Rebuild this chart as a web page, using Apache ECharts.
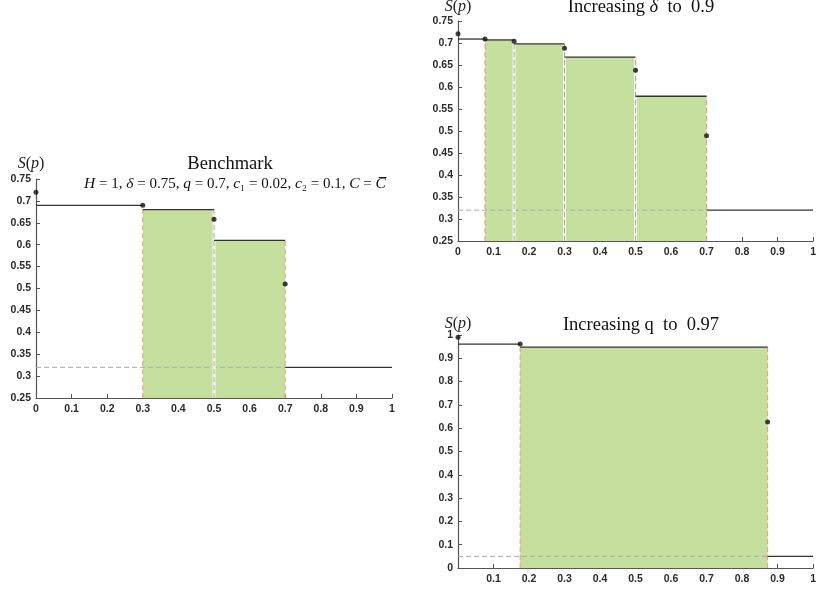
<!DOCTYPE html>
<html><head><meta charset="utf-8">
<script src="https://cdn.jsdelivr.net/npm/echarts@6/dist/echarts.min.js"></script>
<style>html,body{margin:0;padding:0;background:#fff}#c{width:819px;height:592px}</style>
</head><body><div id="c"></div>
<script>
// ---------- data ----------
const xTicks = [0, 0.1, 0.2, 0.3, 0.4, 0.5, 0.6, 0.7, 0.8, 0.9, 1];

// Benchmark
const benchEdges  = [0, 0.3, 0.5, 0.7, 1];
const benchLevels = [0.69, 0.68, 0.61, 0.32];
const benchFilled = [0, 1, 1, 0];
const benchDotsX  = [0, 0.3, 0.5, 0.7];
const benchDotsY  = [0.72, 0.69, 0.658, 0.51];
const benchFloor  = 0.32;
const benchYTicks = [0.25, 0.3, 0.35, 0.4, 0.45, 0.5, 0.55, 0.6, 0.65, 0.7, 0.75];

// Increasing delta to 0.9
const deltaEdges  = [0, 0.076, 0.158, 0.3, 0.5, 0.7, 1];
const deltaLevels = [0.709, 0.707, 0.698, 0.668, 0.579, 0.32];
const deltaFilled = [0, 1, 1, 1, 1, 0];
const deltaDotsX  = [0, 0.076, 0.158, 0.3, 0.5, 0.7];
const deltaDotsY  = [0.721, 0.709, 0.704, 0.688, 0.638, 0.489];
const deltaFloor  = 0.32;
const deltaYTicks = [0.25, 0.3, 0.35, 0.4, 0.45, 0.5, 0.55, 0.6, 0.65, 0.7, 0.75];

// Increasing q to 0.97
const qEdges  = [0, 0.175, 0.872, 1];
const qLevels = [0.961, 0.948, 0.05];
const qFilled = [0, 1, 0];
const qDotsX  = [0, 0.175, 0.872];
const qDotsY  = [0.99, 0.961, 0.627];
const qFloor  = 0.05;
const qYTicks = [0, 0.1, 0.2, 0.3, 0.4, 0.5, 0.6, 0.7, 0.8, 0.9, 1];
const qXLabels = [0.1, 0.2, 0.3, 0.4, 0.5, 0.6, 0.7, 0.8, 0.9, 1];

// ---------- styling ----------
const GREEN = '#c4df9e';
const RED = '#f2937a';
const GRAYD = '#a8a8a8';
const AXIS = '#555';
const LABEL = '#2a2a2a';
const TICKFONT = {color: LABEL, fontSize: 10.5, fontFamily: 'Liberation Sans', fontWeight: 'bold'};

const grids = [
  {left: 36, width: 356, top: 179, height: 219},
  {left: 458, width: 358, top: 21, height: 220},
  {left: 458, width: 358, top: 335, height: 233}
];

function stepData(edges, levels, filled) {
  return levels.map((v, i) => [edges[i], edges[i + 1], v, filled[i]]);
}
function vertData(edges, levels, filled) {
  const out = [];
  for (let i = 1; i < edges.length - 1; i++) {
    const l = filled[i - 1], r = filled[i];
    if (!l && !r) continue;
    let top = -Infinity;
    if (l) top = Math.max(top, levels[i - 1]);
    if (r) top = Math.max(top, levels[i]);
    out.push([edges[i], top, (l && r) ? 1 : 0]);
  }
  return out;
}
function floorEnd(edges, filled) {
  let e = edges[0];
  filled.forEach((f, i) => { if (f) e = edges[i + 1]; });
  return e;
}

function makeSeries(idx, edges, levels, filled, dx, dy, floor, yMin) {
  const s = [];
  s.push({
    type: 'custom', xAxisIndex: idx, yAxisIndex: idx, z: 2,
    data: stepData(edges, levels, filled),
    renderItem: (p, api) => {
      const x0 = api.value(0), x1 = api.value(1), y = api.value(2);
      if (!api.value(3)) return {type: 'group', children: []};
      const a = api.coord([x0, y]), b = api.coord([x1, yMin]);
      return {type: 'rect', shape: {x: a[0], y: a[1], width: b[0] - a[0], height: b[1] - a[1]},
        style: {fill: GREEN}};
    }
  });
  s.push({
    type: 'custom', xAxisIndex: idx, yAxisIndex: idx, z: 3,
    data: [[0, floor, floorEnd(edges, filled), floor]],
    renderItem: (p, api) => {
      const a = api.coord([api.value(0), api.value(1)]), b = api.coord([api.value(2), api.value(3)]);
      return {type: 'line', shape: {x1: a[0], y1: a[1], x2: b[0], y2: b[1]},
        style: {stroke: GRAYD, lineWidth: 1, lineDash: [5, 3]}};
    }
  });
  s.push({
    type: 'custom', xAxisIndex: idx, yAxisIndex: idx, z: 4,
    data: vertData(edges, levels, filled),
    renderItem: (p, api) => {
      const a = api.coord([api.value(0), yMin]), b = api.coord([api.value(0), api.value(1)]);
      const gray = api.value(2) === 1;
      const children = [];
      if (gray) children.push({type: 'line', shape: {x1: a[0], y1: a[1], x2: b[0], y2: b[1]},
        style: {stroke: '#f4f8ee', lineWidth: 3}});
      children.push({type: 'line', shape: {x1: a[0], y1: a[1], x2: b[0], y2: b[1]},
        style: {stroke: gray ? '#a9a9a9' : RED, lineWidth: 1, lineDash: [5, 3]}});
      return {type: 'group', children};
    }
  });
  s.push({
    type: 'custom', xAxisIndex: idx, yAxisIndex: idx, z: 5,
    data: stepData(edges, levels, filled),
    renderItem: (p, api) => {
      const a = api.coord([api.value(0), api.value(2)]), b = api.coord([api.value(1), api.value(2)]);
      return {type: 'line', shape: {x1: a[0], y1: a[1], x2: b[0], y2: b[1]},
        style: {stroke: '#333', lineWidth: 1.3}};
    }
  });
  s.push({
    type: 'scatter', xAxisIndex: idx, yAxisIndex: idx, z: 6,
    symbolSize: 5, itemStyle: {color: '#111'},
    data: dx.map((x, i) => [x, dy[i]])
  });
  return s;
}

function xAxis(idx, labelsShown) {
  return {
    type: 'value', gridIndex: idx, min: xTicks[0], max: xTicks[xTicks.length - 1], interval: 0.1,
    axisLine: {lineStyle: {color: AXIS, width: 1.2}},
    axisTick: {inside: true, length: 4, lineStyle: {color: AXIS}},
    splitLine: {show: false},
    axisLabel: Object.assign({margin: 6,
      formatter: v => labelsShown.some(t => Math.abs(t - v) < 1e-9) ? String(+v.toFixed(2)) : ''}, TICKFONT)
  };
}
function yAxis(idx, ticks) {
  return {
    type: 'value', gridIndex: idx, min: ticks[0], max: ticks[ticks.length - 1],
    interval: +(ticks[1] - ticks[0]).toFixed(4),
    axisLine: {show: true, lineStyle: {color: AXIS, width: 1.2}},
    axisTick: {show: true, inside: true, length: 4, lineStyle: {color: AXIS}},
    splitLine: {show: false},
    axisLabel: Object.assign({margin: 5, formatter: v => String(+v.toFixed(2))}, TICKFONT)
  };
}

const serif = 'Liberation Serif';
const sp = (x, y) => ({type: 'text', x, y, style: {
  text: '{i|S}({i|p})', textAlign: 'center', textVerticalAlign: 'middle',
  font: '16px "Liberation Serif"', fill: '#222',
  rich: {i: {fontStyle: 'italic', fontFamily: serif, fontSize: 16}}}});
const title = (x, y, text, size, rich) => ({type: 'text', x, y, style: {
  text, textAlign: 'center', textVerticalAlign: 'middle',
  font: size + 'px "Liberation Serif"', fill: '#111', rich: rich || {}}});

const option = {
  animation: false,
  backgroundColor: '#fff',
  grid: grids,
  xAxis: [xAxis(0, xTicks), xAxis(1, xTicks), xAxis(2, qXLabels)],
  yAxis: [yAxis(0, benchYTicks), yAxis(1, deltaYTicks), yAxis(2, qYTicks)],
  series: [].concat(
    makeSeries(0, benchEdges, benchLevels, benchFilled, benchDotsX, benchDotsY, benchFloor, benchYTicks[0]),
    makeSeries(1, deltaEdges, deltaLevels, deltaFilled, deltaDotsX, deltaDotsY, deltaFloor, deltaYTicks[0]),
    makeSeries(2, qEdges, qLevels, qFilled, qDotsX, qDotsY, qFloor, qYTicks[0])
  ),
  graphic: [
    sp(31, 164), sp(458, 7), sp(458, 324),
    title(230, 164, 'Benchmark', 18.5),
    title(235, 184, '{i|H} = 1, {i|δ} = 0.75, {i|q} = 0.7, {i|c}₁ = 0.02, {i|c}₂ = 0.1, {i|C} = {i|C\u0305}', 15,
      {i: {fontStyle: 'italic', fontFamily: serif, fontSize: 15.5}}),
    title(641, 7, 'Increasing {i|δ}  to  0.9', 18.5, {i: {fontStyle: 'italic', fontFamily: serif, fontSize: 18.5}}),
    title(641, 325, 'Increasing q  to  0.97', 18.5)
  ]
};
const chart = echarts.init(document.getElementById('c'), null, {renderer: 'canvas'});
chart.setOption(option);
</script></body></html>
